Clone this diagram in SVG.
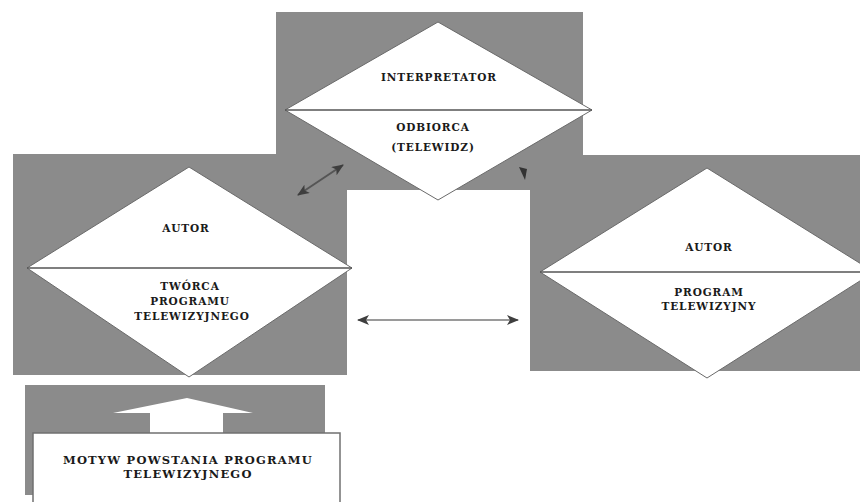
<svg xmlns="http://www.w3.org/2000/svg" width="860" height="502" viewBox="0 0 860 502">
<style>
.bg{fill:#8b8b8b}
.dia{fill:#ffffff;stroke:#6a6a6a;stroke-width:1}
.mid{stroke:#555;stroke-width:1.5;fill:none}
.t{font-family:"DejaVu Serif","Liberation Serif",serif;font-weight:bold;font-size:10.5px;letter-spacing:0.9px;fill:#1a1a1a;text-anchor:middle}
.tb{font-size:11.5px;letter-spacing:1.2px}
.ln{stroke:#9a9a9a;stroke-width:2;fill:none}
.ln2{stroke:#555;stroke-width:2;fill:none}
</style>
<defs>
<marker id="ah" viewBox="0 0 12 10" refX="11" refY="5" markerWidth="12" markerHeight="10" markerUnits="userSpaceOnUse" orient="auto-start-reverse">
<path d="M0,0 L12,5 L0,10 L3,5 Z" fill="#3e3e3e"/>
</marker>
</defs>
<rect width="860" height="502" fill="#ffffff"/>
<g id="background">
<polygon class="bg" points="276,12 583,12 583,155 860,155 860,371 530,371 530,190 347,190 347,375 13,375 13,154 276,154"/>
</g>
<g id="interpretator">
<polygon class="dia" points="285,110 438,22 592,110 438,200"/>
<line class="mid" x1="285" y1="110" x2="592" y2="110"/>
<text class="t" x="439" y="81">INTERPRETATOR</text>
<text class="t" x="433" y="131">ODBIORCA</text>
<text class="t" x="433" y="151">(TELEWIDZ)</text>
</g>
<g id="autor-tworca">
<polygon class="dia" points="27,268 189,167 352,268 189,377"/>
<line class="mid" x1="27" y1="268" x2="352" y2="268"/>
<text class="t" x="186" y="232">AUTOR</text>
<text class="t" x="190" y="290">TWÓRCA</text>
<text class="t" x="190" y="305">PROGRAMU</text>
<text class="t" x="192" y="320">TELEWIZYJNEGO</text>
</g>
<g id="autor-program">
<polygon class="dia" points="540,272 707,168 874,272 707,378"/>
<line class="mid" x1="540" y1="272" x2="860" y2="272"/>
<text class="t" x="709" y="251">AUTOR</text>
<text class="t" x="709" y="296">PROGRAM</text>
<text class="t" x="709" y="310">TELEWIZYJNY</text>
</g>
<g id="motyw">
<rect class="bg" x="25" y="385" width="300" height="110"/>
<polygon fill="#ffffff" points="113,413 187,398 253,413 223,413 223,434 150,434 150,413"/>
<rect x="33" y="433" width="307" height="80" fill="#ffffff" stroke="#707070" stroke-width="1.5"/>
<text class="t tb" x="188" y="464">MOTYW POWSTANIA PROGRAMU</text>
<text class="t tb" x="188" y="478">TELEWIZYJNEGO</text>
</g>
<g id="connectors">
<line class="ln2" x1="298" y1="195" x2="343" y2="165" marker-start="url(#ah)" marker-end="url(#ah)"/>
<path d="M519,167 L527,169 L525,180 Z" fill="#333"/>
<line class="ln" x1="358" y1="320" x2="518" y2="320" marker-start="url(#ah)" marker-end="url(#ah)"/>
</g>
</svg>
